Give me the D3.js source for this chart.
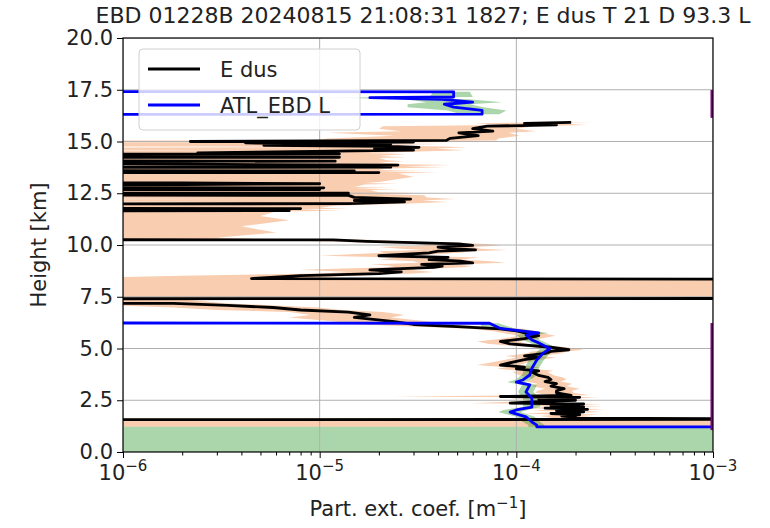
<!DOCTYPE html>
<html>
<head>
<meta charset="utf-8">
<script src="https://cdn.jsdelivr.net/npm/d3@7"></script>
<style>
  html, body { margin: 0; padding: 0; background: #fff; }
  svg { display: block; font-family: "DejaVu Sans", sans-serif; }
</style>
</head>
<body>
<svg id="chart" width="770" height="528"></svg>
<script>
// ---- data -------------------------------------------------------------
const titleText = "EBD 01228B 20240815 21:08:31 1827; E dus T 21 D 93.3 L";
const seriesNames = ["E dus", "ATL_EBD L"];
const heightTicks = [0, 2.5, 5, 7.5, 10, 12.5, 15, 17.5, 20];
const extDecades = [-6, -5, -4, -3];

// E dus profile: [height km, extinction m^-1, uncertainty m^-1]
const edusProfile = [
  [15.92, 1.9e-4, 6.0e-5], [15.88, 1.1e-4, 5.0e-5], [15.80, 1.6e-4, 7.0e-5],
  [15.74, 7.1e-5, 5.0e-5], [15.62, 6.0e-5, 4.0e-5], [15.50, 7.6e-5, 5.0e-5],
  [15.42, 5.1e-5, 4.0e-5], [15.28, 6.4e-5, 4.0e-5], [15.15, 4.6e-5, 3.5e-5],
  [15.05, 4.4e-5, 3.5e-5], [15.00, 2.2e-6, 1.5e-5], [14.97, 3.0e-5, 2.0e-5],
  [14.93, 4.2e-6, 1.2e-5], [14.88, 2.3e-5, 2.0e-5], [14.82, 5.2e-6, 1.2e-5],
  [14.76, 2.3e-5, 2.0e-5], [14.72, 3.2e-5, 2.4e-5], [14.66, 1.9e-5, 2.0e-5],
  [14.58, 3.0e-5, 2.4e-5], [14.45, 2.4e-6, 1.5e-5], [14.40, 1.26e-5, 1.5e-5],
  [14.30, 0, 2.0e-5], [14.24, 1.26e-5, 1.5e-5], [14.20, 0, 2.0e-5],
  [14.10, 0, 2.2e-5], [14.05, 1.2e-5, 1.5e-5], [14.00, 0, 2.0e-5],
  [13.90, 2.1e-6, 2.5e-5], [13.86, 2.5e-5, 2.2e-5], [13.80, 7.0e-6, 2.0e-5],
  [13.76, 2.3e-5, 2.0e-5], [13.70, 0, 2.2e-5], [13.62, 0, 2.0e-5],
  [13.58, 1.5e-5, 1.8e-5], [13.54, 0, 2.0e-5], [13.50, 2.0e-5, 2.0e-5],
  [13.46, 0, 2.5e-5], [13.30, 0, 3.0e-5], [13.04, 0, 2.0e-5],
  [13.00, 2.0e-6, 1.5e-5], [12.96, 1.0e-5, 1.5e-5], [12.92, 2.0e-6, 1.5e-5],
  [12.86, 0, 1.6e-5], [12.80, 0, 1.5e-5], [12.76, 1.05e-5, 1.2e-5],
  [12.72, 0, 1.5e-5], [12.68, 1.0e-5, 1.5e-5], [12.64, 0, 1.8e-5],
  [12.55, 0, 2.0e-5], [12.50, 1.4e-5, 2.0e-5], [12.46, 0, 2.0e-5],
  [12.40, 1.4e-5, 2.0e-5], [12.30, 1.5e-5, 2.0e-5], [12.22, 2.9e-5, 2.0e-5],
  [12.15, 1.5e-5, 1.8e-5], [12.08, 2.7e-5, 1.8e-5], [12.00, 1.4e-5, 1.5e-5],
  [11.90, 0, 1.2e-5], [11.80, 0, 1.0e-5], [11.76, 8.0e-6, 6.0e-6],
  [11.72, 0, 8.0e-6], [11.66, 7.0e-6, 6.0e-6], [11.62, 0, 6.0e-6],
  [11.40, 0, 5.0e-6], [11.20, 0, 7.0e-6], [10.90, 0, 4.0e-6],
  [10.60, 0, 6.0e-6], [10.35, 0, 3.0e-6], [10.28, 0, 5.0e-6],
  [10.25, 1.17e-5, 6.0e-6], [10.18, 1.74e-5, 8.0e-6], [10.05, 5.1e-5, 2.0e-5],
  [9.98, 6.0e-5, 2.5e-5], [9.90, 4.0e-5, 2.0e-5], [9.82, 4.6e-5, 2.0e-5],
  [9.76, 6.2e-5, 2.8e-5], [9.70, 4.0e-5, 2.0e-5], [9.62, 3.6e-5, 1.5e-5],
  [9.48, 2.0e-5, 1.0e-5], [9.40, 4.5e-5, 2.0e-5], [9.30, 3.6e-5, 1.6e-5],
  [9.22, 5.2e-5, 2.2e-5], [9.14, 6.0e-5, 2.8e-5], [9.06, 3.3e-5, 1.5e-5],
  [8.98, 4.2e-5, 1.8e-5], [8.92, 3.8e-5, 1.6e-5], [8.80, 1.8e-5, 1.0e-5],
  [8.70, 2.6e-5, 1.2e-5], [8.62, 2.0e-5, 1.0e-5], [8.52, 8.0e-6, 6.0e-6],
  [8.38, 4.5e-6, 4.0e-6], [8.34, 1.0e-2, 2.0e-2], [7.42, 1.0e-2, 2.0e-2],
  [7.38, 0, 2.0e-6], [7.22, 0, 3.0e-6], [7.18, 1.8e-6, 1.5e-6],
  [7.08, 3.4e-6, 2.5e-6], [6.98, 5.8e-6, 4.0e-6], [6.86, 8.0e-6, 5.0e-6],
  [6.76, 1.4e-5, 7.0e-6], [6.62, 1.8e-5, 9.0e-6], [6.50, 1.5e-5, 8.0e-6],
  [6.30, 2.4e-5, 1.2e-5], [6.16, 3.0e-5, 1.4e-5], [6.06, 5.0e-5, 2.0e-5],
  [5.95, 8.3e-5, 2.5e-5], [5.85, 1.0e-4, 2.5e-5], [5.74, 1.12e-4, 2.5e-5],
  [5.62, 1.3e-4, 2.8e-5], [5.48, 1.1e-4, 2.4e-5], [5.34, 8.3e-5, 2.0e-5],
  [5.22, 9.3e-5, 2.0e-5], [5.06, 1.5e-4, 3.0e-5], [4.94, 1.85e-4, 3.5e-5],
  [4.86, 1.5e-4, 3.0e-5], [4.76, 1.4e-4, 2.8e-5], [4.64, 1.1e-4, 2.2e-5],
  [4.56, 1.3e-4, 3.0e-5], [4.46, 1.1e-4, 2.2e-5], [4.38, 1.0e-4, 2.0e-5],
  [4.28, 9.0e-5, 2.0e-5], [4.20, 8.3e-5, 2.0e-5], [4.10, 1.1e-4, 2.2e-5],
  [4.02, 1.0e-4, 2.0e-5], [3.92, 1.3e-4, 2.5e-5], [3.86, 1.2e-4, 2.4e-5],
  [3.70, 1.3e-4, 2.6e-5], [3.60, 1.45e-4, 2.8e-5], [3.50, 1.5e-4, 3.0e-5],
  [3.40, 1.4e-4, 2.8e-5], [3.30, 1.6e-4, 3.2e-5], [3.18, 1.5e-4, 3.0e-5],
  [3.06, 1.75e-4, 3.5e-5], [2.96, 1.6e-4, 3.2e-5], [2.86, 1.6e-4, 3.5e-5],
  [2.74, 1.9e-4, 4.5e-5], [2.68, 8.3e-5, 6.0e-5], [2.64, 2.1e-4, 5.5e-5],
  [2.56, 1.3e-4, 4.0e-5], [2.50, 2.0e-4, 5.0e-5], [2.42, 1.2e-4, 3.5e-5],
  [2.36, 9.3e-5, 3.5e-5], [2.32, 2.2e-4, 5.0e-5], [2.24, 1.5e-4, 4.0e-5],
  [2.18, 2.2e-4, 5.0e-5], [2.12, 1.4e-4, 4.0e-5], [2.06, 2.3e-4, 5.0e-5],
  [2.00, 1.6e-4, 4.0e-5], [1.94, 2.2e-4, 5.0e-5], [1.86, 1.5e-4, 4.0e-5],
  [1.80, 2.1e-4, 5.0e-5], [1.74, 1.7e-4, 4.0e-5], [1.68, 2.0e-4, 5.0e-5],
  [1.63, 1.9e-4, 5.0e-5], [1.58, 1.0e-2, 2.0e-2], [1.53, 0, 1.0e-2],
  [1.22, 0, 1.0e-2]
];

// ATL_EBD L profile: [height km, extinction m^-1, uncertainty m^-1]
const atlProfile = [
  [17.44, 0, 0], [17.40, 4.8e-5, 1.0e-5], [17.15, 4.8e-5, 1.2e-5],
  [17.12, 1.8e-5, 8.0e-6], [17.04, 4.2e-5, 1.5e-5], [16.90, 6.0e-5, 2.5e-5],
  [16.80, 4.3e-5, 1.5e-5], [16.66, 4.8e-5, 2.0e-5], [16.50, 6.7e-5, 2.2e-5],
  [16.32, 6.7e-5, 1.5e-5], [16.28, 0, 0], [6.27, 0, 0],
  [6.22, 7.3e-5, 8.0e-6], [5.97, 8.3e-5, 1.5e-5], [5.75, 1.3e-4, 1.6e-5],
  [5.65, 1.12e-4, 1.2e-5], [5.41, 1.2e-4, 1.2e-5], [5.27, 1.3e-4, 1.2e-5],
  [5.00, 1.48e-4, 1.5e-5], [4.78, 1.37e-4, 1.2e-5], [4.44, 1.27e-4, 1.1e-5],
  [4.05, 1.2e-4, 1.0e-5], [3.72, 1.17e-4, 1.0e-5], [3.48, 1.08e-4, 1.0e-5],
  [3.38, 1.0e-4, 1.0e-5], [3.24, 1.17e-4, 1.0e-5], [2.90, 1.12e-4, 1.0e-5],
  [2.60, 1.2e-4, 1.2e-5], [2.17, 1.2e-4, 1.2e-5], [2.03, 1.0e-4, 1.4e-5],
  [1.93, 9.3e-5, 1.2e-5], [1.70, 1.12e-4, 1.2e-5], [1.45, 1.2e-4, 1.2e-5],
  [1.30, 1.27e-4, 1.2e-5], [1.22, 1.27e-4, 1.2e-5], [1.20, 1.0e-2, 2.0e-2],
  [0.00, 1.0e-2, 2.0e-2]
];

// ATL layer spans marked on the right edge: [bottom km, top km]
const atlSpans = [[1.06, 6.23], [16.14, 17.49]];

// ---- layout -----------------------------------------------------------
const plot = { left: 123, right: 713, top: 38, bottom: 452 };
const FLOOR = 1e-12;            // non-positive values are clipped to this
const FS = 21;                  // base font size
const textColor = "#222";

const x = d3.scaleLog().domain([1e-6, 1e-3]).range([plot.left, plot.right]);
const y = d3.scaleLinear().domain([0, 20]).range([plot.bottom, plot.top]);
const px = v => x(Math.max(v, FLOOR));

const svg = d3.select("#chart");

svg.append("defs").append("clipPath").attr("id", "plotClip")
  .append("rect")
  .attr("x", plot.left).attr("y", plot.top)
  .attr("width", plot.right - plot.left).attr("height", plot.bottom - plot.top);

const inner = svg.append("g").attr("clip-path", "url(#plotClip)");

// uncertainty bands
const band = d3.area()
  .y(d => y(d[0]))
  .x0(d => px(d[1] - d[2]))
  .x1(d => px(d[1] + d[2]));

inner.append("path").datum(edusProfile)
  .attr("d", band).attr("fill", "#f9cdb0").attr("stroke", "none");

inner.append("path").datum(atlProfile)
  .attr("d", band).attr("fill", "rgb(0,128,0)").attr("fill-opacity", 0.33)
  .attr("stroke", "none");

// grid
const gridX = [1e-6, 1e-5, 1e-4, 1e-3];
inner.append("g").selectAll("line").data(gridX).join("line")
  .attr("x1", d => x(d)).attr("x2", d => x(d))
  .attr("y1", plot.top).attr("y2", plot.bottom)
  .attr("stroke", "#b0b0b0").attr("stroke-width", 1);
inner.append("g").selectAll("line").data(heightTicks).join("line")
  .attr("y1", d => y(d)).attr("y2", d => y(d))
  .attr("x1", plot.left).attr("x2", plot.right)
  .attr("stroke", "#b0b0b0").attr("stroke-width", 1);

// profiles
const profileLine = d3.line().x(d => px(d[1])).y(d => y(d[0]));

inner.append("path").datum(edusProfile)
  .attr("d", profileLine).attr("fill", "none")
  .attr("stroke", "#000").attr("stroke-width", 2.8).attr("stroke-linejoin", "round");

inner.append("path").datum(atlProfile)
  .attr("d", profileLine).attr("fill", "none")
  .attr("stroke", "#0000ff").attr("stroke-width", 2.8).attr("stroke-linejoin", "round");

// layer spans at the right edge
inner.append("g").selectAll("line").data(atlSpans).join("line")
  .attr("x1", x(1e-3)).attr("x2", x(1e-3))
  .attr("y1", d => y(d[0])).attr("y2", d => y(d[1]))
  .attr("stroke", "#800080").attr("stroke-width", 5);

// frame
svg.append("rect")
  .attr("x", plot.left).attr("y", plot.top)
  .attr("width", plot.right - plot.left).attr("height", plot.bottom - plot.top)
  .attr("fill", "none").attr("stroke", "#000").attr("stroke-width", 1.2);

// y axis
const yAxis = svg.append("g").attr("transform", `translate(${plot.left},0)`)
  .call(d3.axisLeft(y).tickValues(heightTicks).tickFormat(d3.format(".1f")).tickSize(6).tickPadding(4));
yAxis.select(".domain").remove();
yAxis.selectAll("text").attr("font-size", FS).attr("fill", textColor)
  .attr("font-family", "DejaVu Sans");
yAxis.selectAll("line").attr("stroke", "#000");

// x axis: minor ticks then majors
const minorTicks = [];
for (const e of [-6, -5, -4]) for (let m = 2; m <= 9; m++) minorTicks.push(m * Math.pow(10, e));
const xMinor = svg.append("g").attr("transform", `translate(0,${plot.bottom})`)
  .call(d3.axisBottom(x).tickValues(minorTicks).tickFormat("").tickSize(3.5));
xMinor.select(".domain").remove();
xMinor.selectAll("line").attr("stroke", "#000");

const xMajor = svg.append("g").attr("transform", `translate(0,${plot.bottom})`)
  .call(d3.axisBottom(x).tickValues(extDecades.map(e => Math.pow(10, e))).tickFormat("").tickSize(6));
xMajor.select(".domain").remove();
xMajor.selectAll("line").attr("stroke", "#000");

const xLabels = svg.append("g");
extDecades.forEach(e => {
  const t = xLabels.append("text")
    .attr("x", x(Math.pow(10, e))).attr("y", 480)
    .attr("text-anchor", "middle").attr("font-size", FS).attr("fill", textColor);
  t.append("tspan").text("10");
  t.append("tspan").attr("dy", -9).attr("font-size", 15).text("\u2212" + Math.abs(e));
});

// axis titles
const xt = svg.append("text")
  .attr("x", 418).attr("y", 516).attr("text-anchor", "middle")
  .attr("font-size", FS).attr("fill", textColor);
xt.append("tspan").text("Part. ext. coef. [m");
xt.append("tspan").attr("dy", -8).attr("font-size", 15).text("\u22121");
xt.append("tspan").attr("dy", 8).text("]");

svg.append("text")
  .attr("transform", "translate(46,245) rotate(-90)")
  .attr("text-anchor", "middle").attr("font-size", FS).attr("fill", textColor)
  .text("Height [km]");

// title
svg.append("text")
  .attr("x", 423).attr("y", 23).attr("text-anchor", "middle")
  .attr("font-size", 22).attr("fill", textColor)
  .text(titleText);

// legend
const lg = svg.append("g").attr("transform", "translate(139,49)");
lg.append("rect").attr("width", 221).attr("height", 81).attr("rx", 4)
  .attr("fill", "#fff").attr("fill-opacity", 0.8)
  .attr("stroke", "#d0d0d0").attr("stroke-width", 1);
const legendColors = ["#000", "#0000ff"];
seriesNames.forEach((name, i) => {
  const yy = 20 + i * 36;
  lg.append("line").attr("x1", 9).attr("x2", 61).attr("y1", yy).attr("y2", yy)
    .attr("stroke", legendColors[i]).attr("stroke-width", 2.8);
  lg.append("text").attr("x", 81).attr("y", yy).attr("dy", "0.36em")
    .attr("font-size", FS).attr("fill", textColor).text(name);
});
</script>
</body>
</html>
